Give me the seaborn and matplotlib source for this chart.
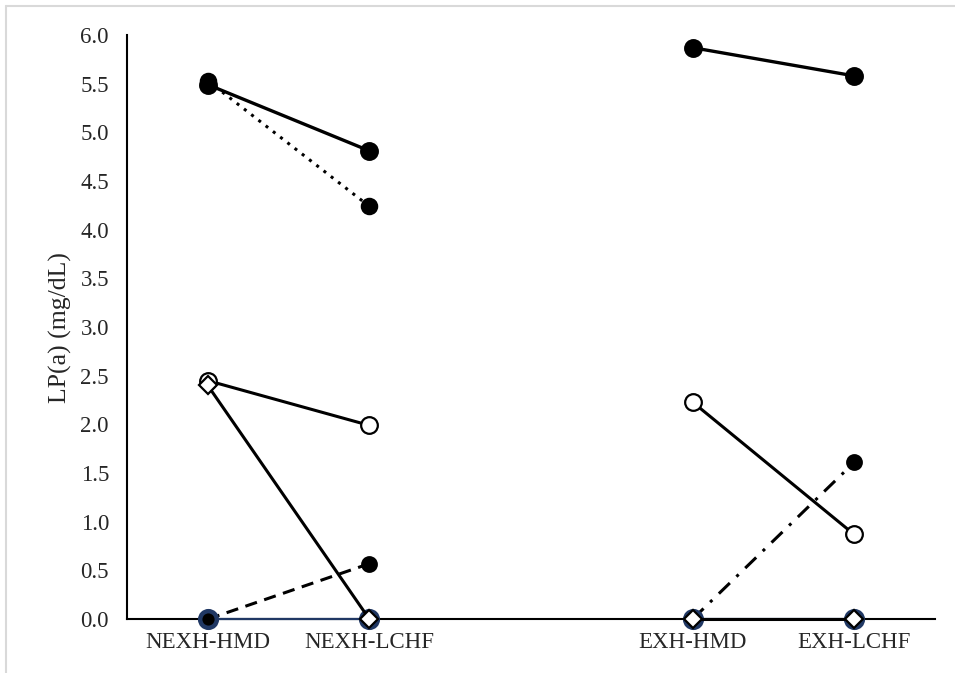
import pandas as pd
import seaborn as sns
import matplotlib.pyplot as plt
from matplotlib.lines import Line2D

# x categories (blank slot separates the two groups)
categories = ["NEXH-HMD", "NEXH-LCHF", "", "EXH-HMD", "EXH-LCHF"]

# NEXH series (HMD, LCHF)
nexh_filled = [5.49, 4.81]
nexh_dotted = [5.53, 4.24]
nexh_open = [2.45, 1.99]
nexh_diamond = [2.40, 0.0]
nexh_dashed = [0.0, 0.57]
nexh_navy = [0.0, 0.0]

# EXH series (HMD, LCHF)
exh_filled = [5.87, 5.58]
exh_open = [2.23, 0.87]
exh_dashdot = [0.0, 1.61]
exh_navy = [0.0, 0.0]
exh_diamond = [0.0, 0.0]

navy = "#203864"


def make_df(labels, values):
    return pd.DataFrame({"x": [categories.index(l) for l in labels], "y": values})


nexh = ["NEXH-HMD", "NEXH-LCHF"]
exh = ["EXH-HMD", "EXH-LCHF"]

# (labels, values, line colour, linestyle, linewidth, marker, face, edge, edge width, size)
series = [
    (nexh, nexh_dashed, "black", (0, (4, 2.5)), 2.2, "o", "black", "black", 1.6, 10.5),
    (exh, exh_dashdot, "black", (0, (5, 3, 1, 3)), 2.2, "o", "black", "black", 1.6, 10.5),
    (nexh, nexh_navy, navy, "-", 1.6, "o", "black", navy, 3.2, 12),
    (exh, exh_navy, navy, "-", 1.6, "o", "black", navy, 3.2, 12),
    (exh, exh_diamond, "black", "-", 2.2, "D", "white", "black", 1.6, 9),
    (nexh, nexh_open, "black", "-", 2.2, "o", "white", "black", 1.6, 12),
    (exh, exh_open, "black", "-", 2.2, "o", "white", "black", 1.6, 12),
    (nexh, nexh_diamond, "black", "-", 2.2, "D", "white", "black", 1.6, 9),
    (nexh, nexh_dotted, "black", (0, (1, 2)), 2.2, "o", "black", "black", 1.6, 11),
    (nexh, nexh_filled, "black", "-", 2.4, "o", "black", "black", 1.6, 12),
    (exh, exh_filled, "black", "-", 2.4, "o", "black", "black", 1.6, 12),
]

sns.set_style("white")
plt.rcParams["font.family"] = ["Liberation Serif", "DejaVu Serif"]

fig = plt.figure(figsize=(9.55, 6.73), dpi=100)
ax = fig.add_axes([0.133, 0.080, 0.846, 0.868])

for labels, vals, col, ls, lw, mk, fc, ec, mew, ms in series:
    df = make_df(labels, vals)
    sns.lineplot(data=df, x="x", y="y", ax=ax, color=col, linestyle=ls,
                 linewidth=lw, marker=mk, markerfacecolor=fc,
                 markeredgecolor=ec, markeredgewidth=mew, markersize=ms,
                 sort=False, clip_on=False, zorder=3)

ax.set_xlim(-0.5, 4.5)
ax.set_ylim(0, 6)
ax.set_yticks([i * 0.5 for i in range(13)])
ax.set_yticklabels([f"{i * 0.5:.1f}" for i in range(13)], fontsize=16.5)
ax.set_xticks(range(len(categories)))
ax.set_xticklabels(categories, fontsize=16.5)
ax.tick_params(axis="y", direction="out", length=6, width=1.3, color="black", pad=7)
ax.tick_params(axis="x", length=0, pad=9)
ax.set_xlabel("")
ax.set_ylabel("LP(a) (mg/dL)", fontsize=18.5, labelpad=6)

sns.despine(ax=ax)
for s in ["left", "bottom"]:
    ax.spines[s].set_color("black")
    ax.spines[s].set_linewidth(1.5)

# light chart-area border
fig.add_artist(Line2D([0.006, 0.006], [0.0, 0.991], color="#d9d9d9", lw=1.5))
fig.add_artist(Line2D([0.006, 1.0], [0.991, 0.991], color="#d9d9d9", lw=1.5))

fig.savefig("out.png", dpi=100)
